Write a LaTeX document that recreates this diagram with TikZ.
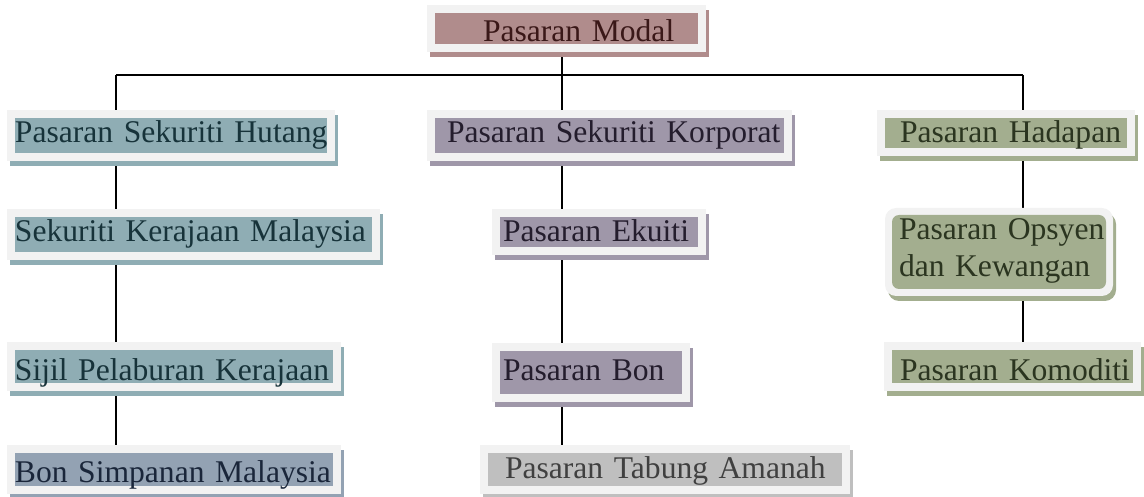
\documentclass[tikz,border=0pt]{standalone}
\usepackage{fontspec}
\setmainfont{Liberation Serif}
\usetikzlibrary{shadows,backgrounds}
\definecolor{framec}{HTML}{F2F2F2}
\definecolor{modalc}{HTML}{B08C8C}\definecolor{modalt}{HTML}{3A1818}
\definecolor{tealc}{HTML}{8FADB4}\definecolor{tealt}{HTML}{17333A}
\definecolor{purc}{HTML}{9F97A9}\definecolor{purt}{HTML}{241D2D}
\definecolor{grnc}{HTML}{A3AE8F}\definecolor{grnt}{HTML}{2B3520}
\definecolor{bgc}{HTML}{93A2B3}\definecolor{bgt}{HTML}{1A263A}
\definecolor{gryc}{HTML}{BFBFBF}\definecolor{gryt}{HTML}{404040}
\tikzset{
  box/.style 2 args={fill=framec, draw=none, inner xsep=0pt, inner ysep=0pt, outer sep=0pt,
    anchor=north west, align=left, text=#2,
    font=\fontsize{31.6}{37}\selectfont,
    general shadow={shadow xshift=3pt, shadow yshift=-5pt, fill=#1},
    path picture={\fill[#1] ([shift={(8pt,-8pt)}]path picture bounding box.north west)
       rectangle ([shift={(-8pt,8pt)}]path picture bounding box.south east);}},
  rbox/.style 2 args={fill=framec, draw=none, inner xsep=0pt, inner ysep=0pt, outer sep=0pt,
    anchor=north west, align=left, text=#2, rounded corners=11pt,
    font=\fontsize{31.6}{37}\selectfont,
    general shadow={shadow xshift=3pt, shadow yshift=-5pt, fill=#1},
    path picture={\fill[#1, rounded corners=7pt] ([shift={(7pt,-7pt)}]path picture bounding box.north west)
       rectangle ([shift={(-7pt,7pt)}]path picture bounding box.south east);}},
  conn/.style={draw=black, line width=1.3pt}
}
\begin{document}
\begin{tikzpicture}[x=1pt,y=-1pt]
\useasboundingbox (0,0) rectangle (1144,497);
\node[box={modalc}{modalt}, text width=279pt, text height=37pt, text depth=10pt] (modal) at (427,5) {\hspace*{56pt}Pasaran Modal};
\node[box={tealc}{tealt}, text width=328pt, text height=33pt, text depth=18pt] (hut) at (7,110) {\hspace*{8pt}Pasaran Sekuriti Hutang};
\node[box={purc}{purt}, text width=365pt, text height=33pt, text depth=18pt] (kor) at (427,110) {\hspace*{20pt}Pasaran Sekuriti Korporat};
\node[box={grnc}{grnt}, text width=258pt, text height=33pt, text depth=13pt] (had) at (877,110) {\hspace*{23pt}Pasaran Hadapan};
\node[box={tealc}{tealt}, text width=373pt, text height=33pt, text depth=18pt] (skm) at (7,209) {\hspace*{8pt}Sekuriti Kerajaan Malaysia};
\node[box={purc}{purt}, text width=214pt, text height=33pt, text depth=13pt] (eku) at (492,209) {\hspace*{11pt}Pasaran Ekuiti};
\node[rbox={grnc}{grnt}, text width=228pt, text height=32pt, text depth=56pt] (ops) at (885,208) {\hspace*{14pt}Pasaran Opsyen\\\hspace*{14pt}dan Kewangan};
\node[box={tealc}{tealt}, text width=334pt, text height=38pt, text depth=11pt] (sij) at (7,342) {\hspace*{8pt}Sijil Pelaburan Kerajaan};
\node[box={purc}{purt}, text width=198pt, text height=37pt, text depth=22pt] (bon) at (492,343) {\hspace*{11pt}Pasaran Bon};
\node[box={grnc}{grnt}, text width=257pt, text height=38pt, text depth=11pt] (kom) at (884,342) {\hspace*{16pt}Pasaran Komoditi};
\node[box={bgc}{bgt}, text width=334pt, text height=37pt, text depth=12pt] (bsm) at (7,445) {\hspace*{8pt}Bon Simpanan Malaysia};
\node[box={gryc}{gryt}, text width=370pt, text height=33pt, text depth=16pt] (tab) at (480,445) {\hspace*{25pt}Pasaran Tabung Amanah};
\coordinate (jL) at (116,75);
\coordinate (jM) at (562,75);
\coordinate (jR) at (1023,75);
\begin{scope}[on background layer]
\draw[conn] (modal.south -| jM) -- (jM);
\draw[conn] (jL) -- (jR);
\draw[conn] (jL) -- (jL |- hut.north);
\draw[conn] (jM) -- (jM |- kor.north);
\draw[conn] (jR) -- (jR |- had.north);
\draw[conn] (hut.south -| jL) -- (skm.north -| jL);
\draw[conn] (skm.south -| jL) -- (sij.north -| jL);
\draw[conn] (sij.south -| jL) -- (bsm.north -| jL);
\draw[conn] (kor.south -| jM) -- (eku.north -| jM);
\draw[conn] (eku.south -| jM) -- (bon.north -| jM);
\draw[conn] (bon.south -| jM) -- (tab.north -| jM);
\draw[conn] (had.south -| jR) -- (ops.north -| jR);
\draw[conn] (ops.south -| jR) -- (kom.north -| jR);
\end{scope}
\end{tikzpicture}
\end{document}
